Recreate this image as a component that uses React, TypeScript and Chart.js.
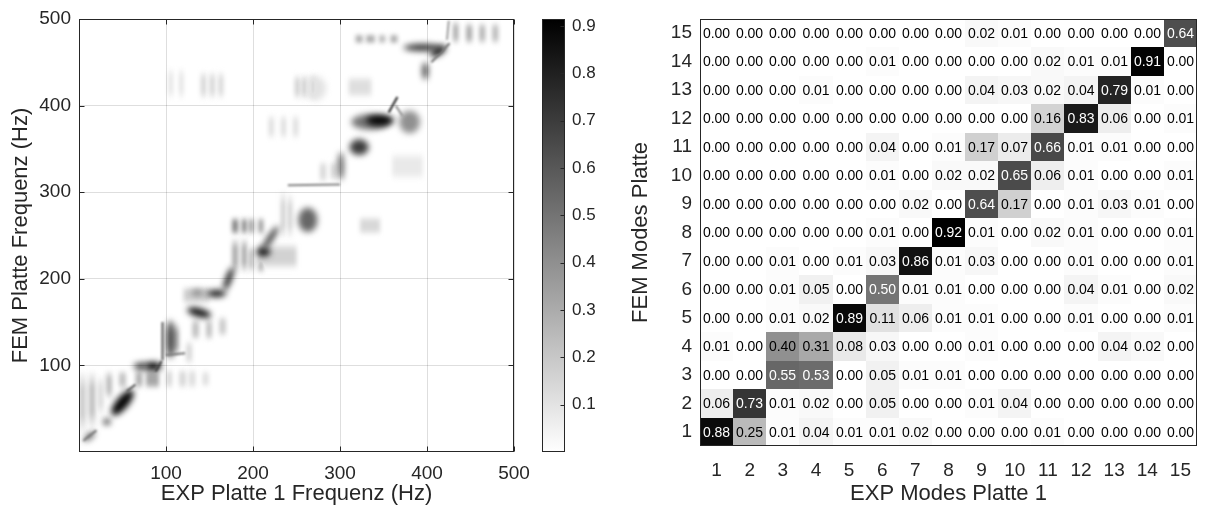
import React, { useEffect, useRef } from 'react';
import { Chart, registerables } from 'chart.js';

Chart.register(...registerables);

const FONT = '"Liberation Sans", Arial, Helvetica, sans-serif';
const TEXT = '#262626';

// ---------- Left panel: frequency-frequency correlation map ----------
const freqTicks = [100, 200, 300, 400, 500];
const colorbarTicks = [0.1, 0.2, 0.3, 0.4, 0.5, 0.6, 0.7, 0.8, 0.9];
const colorMax = 0.915;

// faint vertical stripes: [expHzFrom, expHzTo, femHzFrom, femHzTo, value]
const heatStripes: number[][] = [
  [0, 8, 20, 95, 0.18], [11, 19, 25, 95, 0.22], [22, 28, 40, 90, 0.14], [31, 38, 60, 95, 0.24],
  [46, 54, 72, 95, 0.22], [65, 73, 72, 96, 0.28], [77, 92, 72, 96, 0.32],
  [100, 107, 72, 97, 0.14], [115, 123, 72, 97, 0.14], [126, 134, 72, 97, 0.12], [142, 149, 74, 95, 0.12],
  [103, 115, 110, 150, 0.28], [123, 130, 100, 130, 0.14],
  [130, 138, 128, 155, 0.22], [146, 153, 128, 155, 0.22], [161, 169, 132, 158, 0.18],
  [176, 183, 250, 272, 0.45], [187, 193, 250, 272, 0.42], [195, 201, 250, 272, 0.34], [206, 212, 250, 272, 0.34],
  [176, 183, 206, 248, 0.3], [187, 193, 206, 248, 0.32], [195, 201, 206, 240, 0.24], [206, 212, 206, 225, 0.28],
  [232, 237, 245, 303, 0.18], [240, 245, 245, 300, 0.18],
  [277, 284, 310, 337, 0.14], [289, 296, 312, 337, 0.14],
  [103, 108, 406, 445, 0.1], [115, 120, 406, 445, 0.1],
  [140, 146, 406, 441, 0.15], [150, 156, 406, 441, 0.15], [160, 166, 406, 441, 0.14],
  [248, 254, 406, 437, 0.17], [256, 262, 406, 437, 0.18], [266, 272, 406, 437, 0.17],
  [218, 224, 360, 391, 0.12], [232, 238, 360, 391, 0.12], [246, 252, 360, 391, 0.12],
  [318, 326, 471, 483, 0.3], [330, 340, 471, 483, 0.3], [345, 352, 471, 483, 0.26], [358, 366, 471, 483, 0.3],
  [430, 436, 470, 499, 0.3], [445, 452, 470, 497, 0.3], [460, 467, 470, 497, 0.26], [475, 482, 470, 497, 0.24],
  [323, 346, 250, 273, 0.14], [310, 336, 408, 435, 0.12], [360, 395, 313, 347, 0.08],
  [120, 150, 170, 192, 0.17], [205, 250, 210, 242, 0.16],
];

// blobs: [expHz, femHz, radiusExpHz, radiusFemHz, rotationDeg, value]
const heatBlobs: number[][] = [
  [50, 57, 18, 7, -50, 0.9],
  [32, 35, 4, 3.5, 0, 0.75],
  [12, 18, 8, 3, -40, 0.6],
  [85, 99, 10, 5, 0, 0.9],
  [71, 99, 8, 4, 0, 0.7],
  [105, 130, 4, 22, 0, 0.7],
  [138, 161, 14, 5, 15, 0.85],
  [158, 183, 11, 4, 0, 0.85],
  [136, 184, 7, 3.5, 0, 0.45],
  [172, 200, 3.5, 14, 20, 0.85],
  [212, 231, 8, 5, 0, 0.85],
  [220, 247, 3.5, 16, 33, 0.7],
  [263, 268, 11, 14, 0, 0.55],
  [335, 381, 22, 9, 0, 0.5],
  [346, 383, 16, 6, 0, 0.9],
  [322, 352, 11, 9, 0, 0.7],
  [301, 330, 3, 16, 0, 0.65],
  [380, 381, 12, 13, 0, 0.4],
  [398, 440, 3, 10, 0, 0.75],
  [413, 463, 10, 4.5, -30, 0.85],
  [395, 467, 22, 4, 0, 0.75],
  [272, 420, 12, 14, 0, 0.1],
];

// thin streaks: [expHz0, femHz0, expHz1, femHz1, value]
const heatStreaks: number[][] = [
  [5, 13, 20, 25, 0.5],
  [55, 70, 65, 78, 0.6],
  [88, 93, 95, 105, 0.7],
  [96, 106, 96, 150, 0.6],
  [100, 112, 122, 114, 0.5],
  [240, 308, 300, 309, 0.45],
  [356, 392, 366, 410, 0.8],
  [364, 400, 372, 388, 0.4],
  [423, 476, 425, 498, 0.35],
  [405, 450, 426, 472, 0.5],
];

// ---------- Right panel: MAC matrix ----------
const expModes = [1, 2, 3, 4, 5, 6, 7, 8, 9, 10, 11, 12, 13, 14, 15];
const femModes = [1, 2, 3, 4, 5, 6, 7, 8, 9, 10, 11, 12, 13, 14, 15];
const macMode1 = [0.88, 0.25, 0.01, 0.04, 0.01, 0.01, 0.02, 0.0, 0.0, 0.0, 0.01, 0.0, 0.0, 0.0, 0.0];
const macMode2 = [0.06, 0.73, 0.01, 0.02, 0.0, 0.05, 0.0, 0.0, 0.01, 0.04, 0.0, 0.0, 0.0, 0.0, 0.0];
const macMode3 = [0.0, 0.0, 0.55, 0.53, 0.0, 0.05, 0.01, 0.01, 0.0, 0.0, 0.0, 0.0, 0.0, 0.0, 0.0];
const macMode4 = [0.01, 0.0, 0.4, 0.31, 0.08, 0.03, 0.0, 0.0, 0.01, 0.0, 0.0, 0.0, 0.04, 0.02, 0.0];
const macMode5 = [0.0, 0.0, 0.01, 0.02, 0.89, 0.11, 0.06, 0.01, 0.01, 0.0, 0.0, 0.01, 0.0, 0.0, 0.01];
const macMode6 = [0.0, 0.0, 0.01, 0.05, 0.0, 0.5, 0.01, 0.01, 0.0, 0.0, 0.0, 0.04, 0.01, 0.0, 0.02];
const macMode7 = [0.0, 0.0, 0.01, 0.0, 0.01, 0.03, 0.86, 0.01, 0.03, 0.0, 0.0, 0.01, 0.0, 0.0, 0.01];
const macMode8 = [0.0, 0.0, 0.0, 0.0, 0.0, 0.01, 0.0, 0.92, 0.01, 0.0, 0.02, 0.01, 0.0, 0.0, 0.01];
const macMode9 = [0.0, 0.0, 0.0, 0.0, 0.0, 0.0, 0.02, 0.0, 0.64, 0.17, 0.0, 0.01, 0.03, 0.01, 0.0];
const macMode10 = [0.0, 0.0, 0.0, 0.0, 0.0, 0.01, 0.0, 0.02, 0.02, 0.65, 0.06, 0.01, 0.0, 0.0, 0.01];
const macMode11 = [0.0, 0.0, 0.0, 0.0, 0.0, 0.04, 0.0, 0.01, 0.17, 0.07, 0.66, 0.01, 0.01, 0.0, 0.0];
const macMode12 = [0.0, 0.0, 0.0, 0.0, 0.0, 0.0, 0.0, 0.0, 0.0, 0.0, 0.16, 0.83, 0.06, 0.0, 0.01];
const macMode13 = [0.0, 0.0, 0.0, 0.01, 0.0, 0.0, 0.0, 0.0, 0.04, 0.03, 0.02, 0.04, 0.79, 0.01, 0.0];
const macMode14 = [0.0, 0.0, 0.0, 0.0, 0.0, 0.01, 0.0, 0.0, 0.0, 0.0, 0.02, 0.01, 0.01, 0.91, 0.0];
const macMode15 = [0.0, 0.0, 0.0, 0.0, 0.0, 0.0, 0.0, 0.0, 0.02, 0.01, 0.0, 0.0, 0.0, 0.0, 0.64];
const macRows = [
  macMode1, macMode2, macMode3, macMode4, macMode5, macMode6, macMode7, macMode8,
  macMode9, macMode10, macMode11, macMode12, macMode13, macMode14, macMode15,
];
const macMax = 0.92;

function gray(v: number, max: number) {
  const g = Math.round(255 * (1 - Math.max(0, Math.min(v / max, 1))));
  return `rgb(${g},${g},${g})`;
}

const tickFont = { family: FONT, size: 19 };
const titleFont = { family: FONT, size: 22 };

function boxPlugin(innerTicks: boolean) {
  return {
    id: 'box',
    afterDraw(chart: any) {
      const { ctx, chartArea: a, scales } = chart;
      ctx.save();
      ctx.strokeStyle = TEXT;
      ctx.lineWidth = 1;
      const l = Math.round(a.left) + 0.5, r = Math.round(a.right) - 0.5;
      const t = Math.round(a.top) + 0.5, b = Math.round(a.bottom) - 0.5;
      ctx.strokeRect(l, t, r - l, b - t);
      if (innerTicks) {
        const len = 5;
        ctx.beginPath();
        for (const tk of scales.x.ticks) {
          const px = Math.round(scales.x.getPixelForValue(tk.value)) + 0.5;
          ctx.moveTo(px, b); ctx.lineTo(px, b - len);
          ctx.moveTo(px, t); ctx.lineTo(px, t + len);
        }
        for (const tk of scales.y.ticks) {
          const py = Math.round(scales.y.getPixelForValue(tk.value)) + 0.5;
          ctx.moveTo(l, py); ctx.lineTo(l + len, py);
          ctx.moveTo(r, py); ctx.lineTo(r - len, py);
        }
        ctx.stroke();
      }
      ctx.restore();
    },
  };
}

const heatPlugin = {
  id: 'heat',
  beforeDraw(chart: any) {
    const { ctx, chartArea: a, scales } = chart;
    const x = scales.x, y = scales.y;
    const px = (v: number) => x.getPixelForValue(v);
    const py = (v: number) => y.getPixelForValue(v);
    ctx.save();
    ctx.beginPath();
    ctx.rect(a.left, a.top, a.right - a.left, a.bottom - a.top);
    ctx.clip();
    ctx.fillStyle = '#ffffff';
    ctx.fillRect(a.left, a.top, a.right - a.left, a.bottom - a.top);
    ctx.globalCompositeOperation = 'darken';
    ctx.filter = 'blur(2px)';
    for (const [x0, x1, y0, y1, v] of heatStripes) {
      const top = py(y1), bot = py(y0);
      const g = ctx.createLinearGradient(0, top, 0, bot);
      g.addColorStop(0, '#ffffff');
      g.addColorStop(0.3, gray(v, colorMax));
      g.addColorStop(0.7, gray(v, colorMax));
      g.addColorStop(1, '#ffffff');
      ctx.fillStyle = g;
      ctx.fillRect(px(x0), top, px(x1) - px(x0), bot - top);
    }
    ctx.filter = 'blur(3px)';
    for (const [cx, cy, rx, ry, rot, v] of heatBlobs) {
      const cxp = px(cx), cyp = py(cy);
      const rxp = Math.abs(px(cx + rx) - cxp), ryp = Math.abs(py(cy + ry) - cyp);
      ctx.fillStyle = gray(v, colorMax);
      ctx.beginPath();
      ctx.ellipse(cxp, cyp, rxp, ryp, (rot * Math.PI) / 180, 0, Math.PI * 2);
      ctx.fill();
    }
    ctx.filter = 'blur(0.8px)';
    ctx.lineWidth = 2;
    for (const [x0, y0, x1, y1, v] of heatStreaks) {
      ctx.strokeStyle = gray(v, colorMax);
      ctx.beginPath();
      ctx.moveTo(px(x0), py(y0));
      ctx.lineTo(px(x1), py(y1));
      ctx.stroke();
    }
    ctx.restore();
  },
};

const colorbarPlugin = {
  id: 'cbar',
  beforeDraw(chart: any) {
    const { ctx, chartArea: a, scales } = chart;
    const y = scales.y;
    const g = ctx.createLinearGradient(0, y.getPixelForValue(0), 0, y.getPixelForValue(colorMax));
    g.addColorStop(0, '#ffffff');
    g.addColorStop(1, '#000000');
    ctx.save();
    ctx.fillStyle = g;
    ctx.fillRect(a.left, a.top, a.right - a.left, a.bottom - a.top);
    ctx.restore();
  },
  afterDraw(chart: any) {
    const { ctx, chartArea: a, scales } = chart;
    ctx.save();
    ctx.strokeStyle = TEXT;
    ctx.lineWidth = 1;
    const l = Math.round(a.left) + 0.5, r = Math.round(a.right) - 0.5;
    const t = Math.round(a.top) + 0.5, b = Math.round(a.bottom) - 0.5;
    ctx.strokeRect(l, t, r - l, b - t);
    ctx.beginPath();
    for (const tk of scales.y.ticks) {
      const p = Math.round(scales.y.getPixelForValue(tk.value)) + 0.5;
      ctx.moveTo(r, p); ctx.lineTo(r - 4, p);
    }
    ctx.stroke();
    ctx.restore();
  },
};

const matrixPlugin = {
  id: 'matrix',
  beforeDatasetsDraw(chart: any) {
    const { ctx, scales } = chart;
    const x = scales.x, y = scales.y;
    ctx.save();
    ctx.font = `14px ${FONT}`;
    ctx.textAlign = 'center';
    ctx.textBaseline = 'middle';
    macRows.forEach((row, ri) => {
      const fem = femModes[ri];
      row.forEach((v, ci) => {
        const exp = expModes[ci];
        const l = Math.round(x.getPixelForValue(exp - 0.5));
        const r = Math.round(x.getPixelForValue(exp + 0.5));
        const t = Math.round(y.getPixelForValue(fem + 0.5));
        const b = Math.round(y.getPixelForValue(fem - 0.5));
        ctx.fillStyle = gray(v, macMax);
        ctx.fillRect(l, t, r - l, b - t);
        ctx.fillStyle = v >= 0.5 ? '#ffffff' : '#000000';
        ctx.fillText(v.toFixed(2), (l + r) / 2, (t + b) / 2 + 1);
      });
    });
    ctx.restore();
  },
};

function useChart(ref: React.RefObject<HTMLCanvasElement>, make: (c: HTMLCanvasElement) => Chart) {
  useEffect(() => {
    if (!ref.current) return;
    const ch = make(ref.current);
    return () => ch.destroy();
  }, []);
}

export default function App() {
  const leftRef = useRef<HTMLCanvasElement>(null);
  const cbarRef = useRef<HTMLCanvasElement>(null);
  const rightRef = useRef<HTMLCanvasElement>(null);

  useChart(leftRef as any, (c) =>
    new Chart(c, {
      type: 'scatter',
      data: { datasets: [] },
      plugins: [heatPlugin, boxPlugin(true)],
      options: {
        animation: false,
        responsive: false,
        events: [],
        layout: { padding: { left: 0, top: 19, right: 26, bottom: 0 } },
        plugins: { legend: { display: false }, tooltip: { enabled: false } },
        scales: {
          x: {
            type: 'linear', min: 0, max: 500,
            afterBuildTicks: (s: any) => { s.ticks = freqTicks.map((v) => ({ value: v })); },
            afterFit: (s: any) => { s.height = 60; s.paddingLeft = 0; s.paddingRight = 0; },
            grid: { color: 'rgba(0,0,0,0.13)', drawTicks: false },
            border: { display: false },
            ticks: { color: TEXT, font: tickFont, padding: 10, maxRotation: 0 },
            title: { display: true, text: 'EXP Platte 1 Frequenz (Hz)', color: TEXT, font: titleFont, padding: { top: 0, bottom: 5 } },
          },
          y: {
            type: 'linear', min: 0, max: 500,
            afterBuildTicks: (s: any) => { s.ticks = freqTicks.map((v) => ({ value: v })); },
            afterFit: (s: any) => { s.width = 79; s.paddingTop = 0; s.paddingBottom = 0; },
            grid: { color: 'rgba(0,0,0,0.13)', drawTicks: false },
            border: { display: false },
            ticks: { color: TEXT, font: tickFont, padding: 8 },
            title: { display: true, text: 'FEM Platte Frequenz (Hz)', color: TEXT, font: titleFont, padding: { top: 8, bottom: 0 } },
          },
        },
      } as any,
    })
  );

  useChart(cbarRef as any, (c) =>
    new Chart(c, {
      type: 'scatter',
      data: { datasets: [] },
      plugins: [colorbarPlugin],
      options: {
        animation: false,
        responsive: false,
        events: [],
        layout: { padding: { left: 12, top: 19, right: 0, bottom: 60 } },
        plugins: { legend: { display: false }, tooltip: { enabled: false } },
        scales: {
          x: { type: 'linear', min: 0, max: 1, display: false },
          y: {
            type: 'linear', position: 'right', min: 0, max: colorMax,
            afterBuildTicks: (s: any) => { s.ticks = colorbarTicks.map((v) => ({ value: v })); },
            afterFit: (s: any) => { s.width = 45; s.paddingTop = 0; s.paddingBottom = 0; },
            grid: { display: false, drawTicks: false },
            border: { display: false },
            ticks: { color: TEXT, font: { family: FONT, size: 17 }, padding: 7, callback: (v: any) => Number(v).toFixed(1) },
          },
        },
      } as any,
    })
  );

  useChart(rightRef as any, (c) =>
    new Chart(c, {
      type: 'scatter',
      data: { datasets: [] },
      plugins: [matrixPlugin, boxPlugin(false)],
      options: {
        animation: false,
        responsive: false,
        events: [],
        layout: { padding: { left: 0, top: 19, right: 8, bottom: 0 } },
        plugins: { legend: { display: false }, tooltip: { enabled: false } },
        scales: {
          x: {
            type: 'linear', min: 0.5, max: 15.5,
            afterBuildTicks: (s: any) => { s.ticks = expModes.map((v) => ({ value: v })); },
            afterFit: (s: any) => { s.height = 66; s.paddingLeft = 0; s.paddingRight = 0; },
            grid: { display: false, drawTicks: false },
            border: { display: false },
            ticks: { color: TEXT, font: tickFont, padding: 13, maxRotation: 0 },
            title: { display: true, text: 'EXP Modes Platte 1', color: TEXT, font: titleFont, padding: { top: 0, bottom: 5 } },
          },
          y: {
            type: 'linear', min: 0.5, max: 15.5,
            afterBuildTicks: (s: any) => { s.ticks = femModes.map((v) => ({ value: v })); },
            afterFit: (s: any) => { s.width = 80; s.paddingTop = 0; s.paddingBottom = 0; },
            grid: { display: false, drawTicks: false },
            border: { display: false },
            ticks: { color: TEXT, font: tickFont, padding: 8 },
            title: { display: true, text: 'FEM Modes Platte', color: TEXT, font: titleFont, padding: { top: 8, bottom: 0 } },
          },
        },
      } as any,
    })
  );

  return (
    <div style={{ position: 'absolute', left: 0, top: 0, width: 1205, height: 512, background: '#ffffff', overflow: 'hidden' }}>
      <canvas ref={leftRef} width={540} height={512} style={{ position: 'absolute', left: 0, top: 0, width: 540, height: 512 }} />
      <canvas ref={cbarRef} width={80} height={512} style={{ position: 'absolute', left: 530, top: 0, width: 80, height: 512 }} />
      <canvas ref={rightRef} width={585} height={512} style={{ position: 'absolute', left: 620, top: 0, width: 585, height: 512 }} />
    </div>
  );
}
